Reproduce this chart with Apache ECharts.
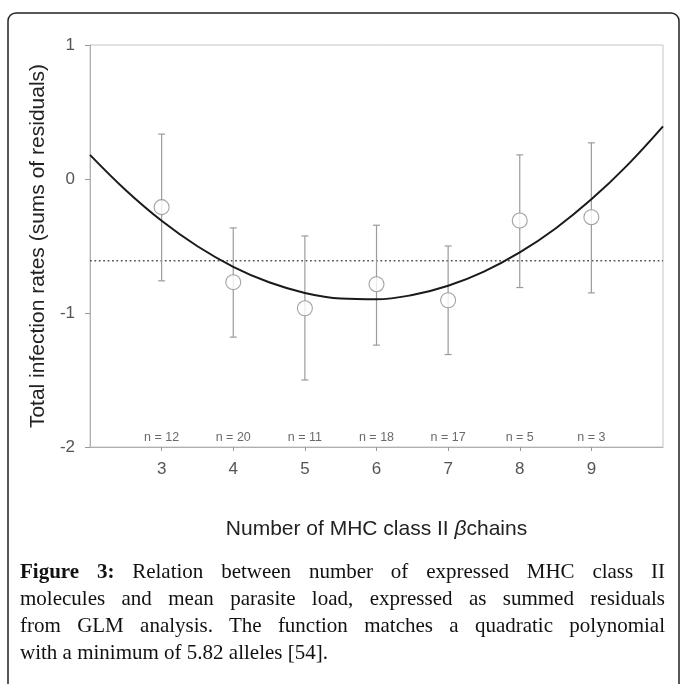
<!DOCTYPE html>
<html>
<head>
<meta charset="utf-8">
<script src="https://cdn.jsdelivr.net/npm/echarts@6/dist/echarts.min.js"></script>
<style>
html,body{margin:0;padding:0;background:#fff;}
#wrap{position:relative;width:680px;height:684px;overflow:hidden;}
#chart{position:absolute;left:0;top:0;width:680px;height:684px;}
#caption{position:absolute;left:20px;top:558px;width:645px;font-family:"Liberation Serif","Times New Roman",serif;font-size:21px;line-height:27px;color:#111;}
#caption .j{display:block;white-space:nowrap;text-align:justify;text-align-last:justify;}
#caption .l{display:block;white-space:nowrap;text-align:left;}
#caption b{font-weight:bold;}
</style>
</head>
<body>
<div id="wrap">
<div id="chart"></div>
<div id="caption"><span class="j"><b>Figure 3:</b> Relation between number of expressed MHC class II</span><span class="j">molecules and mean parasite load, expressed as summed residuals</span><span class="j">from GLM analysis. The function matches a quadratic polynomial</span><span class="l">with a minimum of 5.82 alleles [54].</span></div>
</div>
<script>
// ---- data ----
const categories = [3, 4, 5, 6, 7, 8, 9];
const means = [-0.21, -0.77, -0.965, -0.785, -0.905, -0.31, -0.285];
const upper = [0.335, -0.365, -0.425, -0.345, -0.50, 0.18, 0.27];
const lower = [-0.76, -1.18, -1.50, -1.24, -1.31, -0.81, -0.85];
const nLabels = ['n = 12', 'n = 20', 'n = 11', 'n = 18', 'n = 17', 'n = 5', 'n = 3'];
const curveX = [2, 2.5, 3, 3.5, 4, 4.5, 5, 5.5, 6, 6.5, 7, 7.5, 8, 8.5, 9, 9.5, 10];
const curveY = [0.180, -0.084, -0.312, -0.502, -0.655, -0.771, -0.850, -0.892, -0.898, -0.866, -0.797, -0.691, -0.548, -0.369, -0.152, 0.102, 0.393];
const overallMean = -0.61;
const xRange = [2, 10];
const yRange = [-2, 1];
const yTickStep = 1;

const SANS = '"Liberation Sans", Arial, sans-serif';
const chart = echarts.init(document.getElementById('chart'), null, {renderer: 'canvas'});

const option = {
  animation: false,
  backgroundColor: '#fff',
  graphic: [{
    type: 'rect',
    shape: {x: 8, y: 13, width: 671, height: 700, r: 8},
    style: {fill: 'none', stroke: '#222', lineWidth: 1.5},
    z: 100
  }],
  grid: {left: 90, top: 45, right: 17, bottom: 237, show: true, borderColor: '#c4c4c4', borderWidth: 1},
  xAxis: {
    type: 'value', min: xRange[0], max: xRange[1], interval: 1,
    name: 'Number of MHC class II {b|β}chains',
    nameLocation: 'middle', nameGap: 72,
    nameTextStyle: {fontFamily: SANS, fontSize: 21, color: '#222', rich: {b: {fontFamily: SANS, fontSize: 21, fontStyle: 'italic', color: '#222'}}},
    splitLine: {show: false},
    axisLine: {onZero: false, lineStyle: {color: '#b0b0b0', width: 1}},
    axisTick: {customValues: categories, length: 4, lineStyle: {color: '#999'}},
    axisLabel: {customValues: categories, fontFamily: SANS, fontSize: 17, color: '#555', margin: 14}
  },
  yAxis: {
    type: 'value', min: yRange[0], max: yRange[1], interval: yTickStep,
    name: 'Total infection rates (sums of residuals)',
    nameLocation: 'middle', nameGap: 41, nameRotate: 90,
    nameTextStyle: {fontFamily: SANS, fontSize: 21, color: '#222'},
    splitLine: {show: false},
    axisLine: {show: true, onZero: false, lineStyle: {color: '#b0b0b0', width: 1}},
    axisTick: {show: true, length: 5, lineStyle: {color: '#999'}},
    axisLabel: {fontFamily: SANS, fontSize: 17, color: '#555', margin: 15}
  },
  series: [
    {
      type: 'line', name: 'mean',
      data: [[xRange[0], overallMean], [xRange[1], overallMean]],
      symbol: 'none', silent: true,
      lineStyle: {color: '#555', width: 1.6, type: [1.8, 2.6]},
      z: 2
    },
    {
      type: 'custom', name: 'error',
      data: categories.map((c, i) => [c, upper[i], lower[i]]),
      renderItem: function (params, api) {
        const x = api.value(0);
        const top = api.coord([x, api.value(1)]);
        const bot = api.coord([x, api.value(2)]);
        const hw = 3.5;
        const st = {stroke: '#9c9c9c', lineWidth: 1.2};
        return {type: 'group', children: [
          {type: 'line', shape: {x1: top[0], y1: top[1], x2: bot[0], y2: bot[1]}, style: st},
          {type: 'line', shape: {x1: top[0] - hw, y1: top[1], x2: top[0] + hw, y2: top[1]}, style: st},
          {type: 'line', shape: {x1: bot[0] - hw, y1: bot[1], x2: bot[0] + hw, y2: bot[1]}, style: st}
        ]};
      },
      z: 3
    },
    {
      type: 'line', name: 'fit',
      data: curveX.map((x, i) => [x, curveY[i]]),
      smooth: 0.4, symbol: 'none',
      lineStyle: {color: '#1a1a1a', width: 2},
      z: 4
    },
    {
      type: 'scatter', name: 'points',
      data: categories.map((c, i) => [c, means[i]]),
      symbol: 'circle', symbolSize: 15,
      itemStyle: {color: '#fff', borderColor: '#8c8c8c', borderWidth: 1.1},
      z: 5
    },
    {
      type: 'scatter', name: 'n',
      data: categories.map((c, i) => [c, yRange[0], nLabels[i]]),
      symbolSize: 0, silent: true,
      label: {show: true, position: 'top', distance: 3, formatter: p => p.data[2], fontFamily: SANS, fontSize: 12.5, color: '#444'},
      z: 6
    }
  ]
};
chart.setOption(option);
</script>
</body>
</html>
